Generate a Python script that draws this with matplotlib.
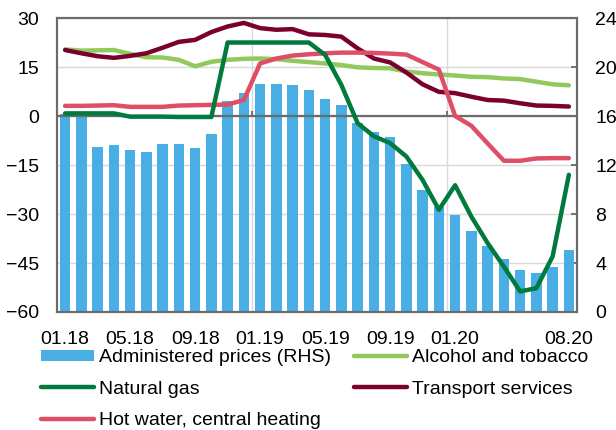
import matplotlib
matplotlib.use("Agg")
import matplotlib.pyplot as plt
import numpy as np

plt.rcParams['font.family'] = ['Liberation Sans', 'DejaVu Sans']

months = ["01.18", "02.18", "03.18", "04.18", "05.18", "06.18", "07.18", "08.18",
          "09.18", "10.18", "11.18", "12.18", "01.19", "02.19", "03.19", "04.19",
          "05.19", "06.19", "07.19", "08.19", "09.19", "10.19", "11.19", "12.19",
          "01.20", "02.20", "03.20", "04.20", "05.20", "06.20", "07.20", "08.20"]
shown_labels = ["01.18", "05.18", "09.18", "01.19", "05.19", "09.19", "01.20", "08.20"]

administered = [16.2, 16.2, 13.5, 13.6, 13.2, 13.1, 13.7, 13.7, 13.4, 14.5, 17.25, 17.9,
                18.6, 18.6, 18.5, 18.1, 17.4, 16.9, 15.4, 14.7, 14.3, 12.1, 10.0, 8.6,
                7.9, 6.6, 5.4, 4.3, 3.4, 3.15, 3.7, 5.1]
alcohol = [20.4, 20.0, 20.1, 20.2, 19.0, 18.0, 17.9, 17.2, 15.2, 16.6, 17.2, 17.5,
           17.6, 17.4, 16.9, 16.5, 16.1, 15.6, 14.9, 14.7, 14.6, 13.6, 13.1, 12.7,
           12.4, 12.0, 11.9, 11.5, 11.3, 10.5, 9.7, 9.4]
gas = [0.8, 0.8, 0.8, 0.8, -0.2, -0.2, -0.2, -0.3, -0.3, -0.3, 22.5, 22.5,
       22.5, 22.5, 22.5, 22.5, 18.7, 9.5, -2.2, -6.2, -8.3, -12.4, -19.6, -28.7,
       -21.2, -30.8, -38.9, -46.1, -53.7, -52.7, -43.0, -18.0]
transport = [20.2, 19.2, 18.3, 17.8, 18.4, 19.2, 20.9, 22.7, 23.3, 25.7, 27.4, 28.5,
             26.9, 26.4, 26.6, 25.0, 24.8, 24.3, 20.7, 17.6, 16.4, 13.3, 9.7, 7.4,
             7.0, 5.9, 4.9, 4.7, 3.9, 3.2, 3.1, 2.9]
hot_water = [3.1, 3.1, 3.2, 3.3, 2.8, 2.8, 2.8, 3.2, 3.3, 3.4, 3.5, 4.9,
             16.1, 17.6, 18.5, 18.9, 19.2, 19.4, 19.4, 19.3, 19.1, 18.8, 16.5, 14.2,
             0.0, -3.0, -8.4, -13.7, -13.7, -13.0, -12.9, -12.9]

C_BAR = "#48AEE4"
C_ALC = "#92C95C"
C_GAS = "#007A3D"
C_TRN = "#7A0030"
C_HOT = "#DE4E66"
C_SPINE = "#6B6B6B"
C_GRID = "#D9D9D9"

FS = 14
x = np.arange(len(months))

fig = plt.figure(figsize=(6.16, 4.30), dpi=100)
ax2 = fig.add_axes([57/616, 1-312/430, 520/616, 294/430])
ax1 = ax2.twinx()
ax1.yaxis.set_label_position('left')
ax1.yaxis.tick_left()
ax2.yaxis.tick_right()
ax2.yaxis.set_label_position('right')
ax1.set_zorder(ax2.get_zorder() + 1)
ax1.patch.set_visible(False)

bars = ax2.bar(x, administered, width=0.65, color=C_BAR, zorder=2,
               label="Administered prices (RHS)")
ax2.set_ylim(0, 24)
ax2.set_yticks(np.arange(0, 25, 4))
ax2.set_xlim(-0.5, len(months) - 0.5)
ax2.yaxis.grid(True, color=C_GRID, lw=1.0, zorder=0)
ax2.set_axisbelow(True)
for b in [11.5, 23.5]:
    ax2.axvline(b, color=C_GRID, lw=1.0, zorder=0)

lw = 3.2
l_alc, = ax1.plot(x, alcohol, color=C_ALC, lw=lw, solid_capstyle='round', label="Alcohol and tobacco", zorder=3)
l_gas, = ax1.plot(x, gas, color=C_GAS, lw=lw, solid_capstyle='round', label="Natural gas", zorder=4)
l_trn, = ax1.plot(x, transport, color=C_TRN, lw=lw, solid_capstyle='round', label="Transport services", zorder=3)
l_hot, = ax1.plot(x, hot_water, color=C_HOT, lw=lw, solid_capstyle='round', label="Hot water, central heating", zorder=3)
ax1.axhline(0, color=C_SPINE, lw=1.6, zorder=2)
ax1.vlines([11.5, 23.5], 0, 1.6, color=C_SPINE, lw=1.3, zorder=2)
ax1.set_ylim(-60, 30)
ax1.set_yticks(np.arange(-60, 31, 15))
ax1.set_xlim(-0.5, len(months) - 0.5)

pos = [months.index(s) for s in shown_labels]
ax2.set_xticks(pos)
ax2.set_xticklabels(shown_labels, fontsize=FS)
ax2.tick_params(axis='x', length=0, pad=14)
ax1.tick_params(axis='x', length=0, labelbottom=False)

ax1.tick_params(axis='y', length=0, pad=13, labelsize=FS)
ax2.tick_params(axis='y', direction='in', length=4, width=1.3, color=C_SPINE, pad=13, labelsize=FS)

for ax in (ax1, ax2):
    for s in ax.spines.values():
        s.set_color(C_SPINE)
        s.set_linewidth(1.5)

# column-wise fill: col1 = bars, gas, hot water; col2 = alcohol, transport
handles = [bars, l_gas, l_hot, l_alc, l_trn]
labels = [h.get_label() for h in handles]
fig.legend(handles, labels, ncol=2, loc='upper left',
           bbox_to_anchor=(41/616, 1-349/430), frameon=False, fontsize=FS,
           borderpad=0, borderaxespad=0, handlelength=2.75, handleheight=0.5,
           handletextpad=0.25, columnspacing=1.15, labelspacing=0.75)

fig.savefig("out.png", dpi=100)
